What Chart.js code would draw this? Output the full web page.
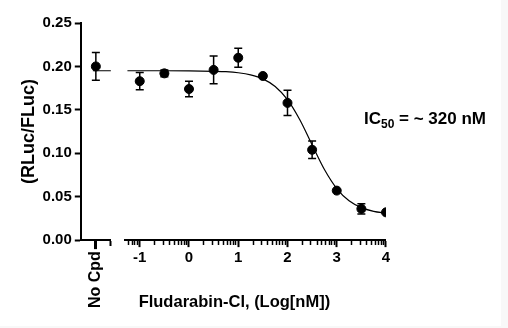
<!DOCTYPE html>
<html>
<head>
<meta charset="utf-8">
<script src="https://cdn.jsdelivr.net/npm/chart.js@4.4.1/dist/chart.umd.min.js"></script>
<style>
  html, body { margin: 0; padding: 0; background: #f8f8f8; }
  #doseChart { display: block; background: #ffffff; }
</style>
</head>
<body>
<canvas id="doseChart" width="501" height="326"></canvas>
<script>
// Dose-response: Fludarabin-Cl, RLuc/FLuc ratio vs log concentration (nM)
const doseLog = [-1, -0.5, 0, 0.5, 1, 1.5, 2, 2.5, 3, 3.5, 4];
const ratioMean = [0.183, 0.192, 0.174, 0.196, 0.210, 0.189, 0.158, 0.104, 0.057, 0.036, 0.032];
const ratioErr = [0.010, 0.004, 0.009, 0.016, 0.011, 0, 0.0145, 0.010, 0, 0.006, 0];

// Control without compound
const noCpdMean = [0.200];
const noCpdErr = [0.016];

// Fitted curve
const fitLog = [-1.25, -0.5, 0, 0.5, 0.75, 1, 1.25, 1.5, 1.75, 2, 2.25, 2.5, 2.75, 3, 3.25, 3.5, 3.75, 4];
const fitRatio = [0.195, 0.195, 0.1949, 0.1944, 0.1939, 0.1927, 0.1903, 0.1857, 0.1769, 0.1617, 0.1385, 0.1096, 0.0813, 0.0594, 0.0453, 0.0374, 0.0332, 0.0311];
const noCpdFit = [0.195, 0.195];

// Axis ticks
const majorTicks = [-1, 0, 1, 2, 3, 4];
const yTicks = [0, 0.05, 0.10, 0.15, 0.20, 0.25];
const xTitle = 'Fludarabin-Cl, (Log[nM])';
const icLabel = ['IC', '50', ' = ~ 320 nM'];

const FONT = 'Arial, "Liberation Sans", Helvetica, sans-serif';
const logMin = -1.3, logMax = 4;

// log-axis ticks: decades plus the minor 2..9 marks
function buildLogTicks() {
    const out = [];
    for (let d = -2; d <= 4; d++) {
        for (let k = 1; k <= 9; k++) {
            const v = d + Math.log10(k);
            if (v >= logMin - 1e-6 && v <= logMax + 1e-6) out.push({ value: v });
        }
    }
    return out;
}
const isMajor = v => majorTicks.some(m => Math.abs(m - v) < 1e-6);

// error bars drawn under the dots
const errorBars = {
    id: 'errorBars',
    beforeDatasetsDraw(chart) {
        const ctx = chart.ctx;
        const yScale = chart.scales.y;
        chart.data.datasets.forEach(ds => {
            if (!ds.err) return;
            const xScale = chart.scales[ds.xAxisID];
            ds.data.forEach((p, i) => {
                const e = ds.err[i];
                if (!e) return;
                const x = xScale.getPixelForValue(p.x);
                const yTop = yScale.getPixelForValue(p.y + e);
                const yBot = yScale.getPixelForValue(p.y - e);
                ctx.save();
                ctx.strokeStyle = '#000';
                ctx.lineWidth = 1.5;
                ctx.beginPath();
                ctx.moveTo(x, yTop); ctx.lineTo(x, yBot);
                ctx.moveTo(x - 4, yTop); ctx.lineTo(x + 4, yTop);
                ctx.moveTo(x - 4, yBot); ctx.lineTo(x + 4, yBot);
                ctx.stroke();
                ctx.restore();
            });
        });
    }
};

// x title across the whole broken axis, plus the IC50 note
const labels = {
    id: 'labels',
    afterDraw(chart) {
        const ctx = chart.ctx;
        const area = chart.chartArea;
        const xs = chart.scales.x;
        ctx.save();
        ctx.fillStyle = '#000';
        ctx.textBaseline = 'alphabetic';
        ctx.font = 'bold 16.5px ' + FONT;
        ctx.textAlign = 'center';
        ctx.fillText(xTitle, (area.left + area.right) / 2 + 1, xs.bottom - 3);

        // IC50 = ~ 320 nM with subscript
        let x = area.right - 22;
        const y = chart.scales.y.getPixelForValue(0.134);
        ctx.textAlign = 'left';
        ctx.font = 'bold 17px ' + FONT;
        ctx.fillText(icLabel[0], x, y);
        x += ctx.measureText(icLabel[0]).width;
        ctx.font = 'bold 12px ' + FONT;
        ctx.fillText(icLabel[1], x, y + 4);
        x += ctx.measureText(icLabel[1]).width;
        ctx.font = 'bold 17px ' + FONT;
        ctx.fillText(icLabel[2], x, y);
        ctx.restore();
    }
};

const tickFont = { family: FONT, size: 15, weight: 'bold' };

new Chart(document.getElementById('doseChart'), {
    type: 'scatter',
    data: {
        datasets: [
            {
                type: 'line',
                data: fitLog.map((v, i) => ({ x: v, y: fitRatio[i] })),
                xAxisID: 'x',
                borderColor: '#000',
                borderWidth: 1.2,
                pointRadius: 0,
                cubicInterpolationMode: 'monotone',
                fill: false
            },
            {
                type: 'line',
                data: [{ x: -0.2, y: noCpdFit[0] }, { x: 1, y: noCpdFit[1] }],
                xAxisID: 'xNo',
                borderColor: '#000',
                borderWidth: 1.2,
                pointRadius: 0,
                fill: false
            },
            {
                data: doseLog.map((v, i) => ({ x: v, y: ratioMean[i] })),
                err: ratioErr,
                xAxisID: 'x',
                backgroundColor: '#000',
                borderColor: '#000',
                pointRadius: 4.5,
                pointHoverRadius: 4.5
            },
            {
                data: [{ x: 0, y: noCpdMean[0] }],
                err: noCpdErr,
                xAxisID: 'xNo',
                backgroundColor: '#000',
                borderColor: '#000',
                pointRadius: 4.5,
                pointHoverRadius: 4.5
            }
        ]
    },
    options: {
        responsive: false,
        animation: false,
        events: [],
        layout: { padding: { top: 23, right: 115, bottom: 16, left: 18 } },
        plugins: {
            legend: { display: false },
            tooltip: { enabled: false }
        },
        scales: {
            // "No Cpd" segment of the broken axis
            xNo: {
                type: 'linear',
                position: 'bottom',
                stack: 'xaxis',
                stackWeight: 30,
                min: -1,
                max: 1,
                afterBuildTicks: s => { s.ticks = [{ value: 0 }, { value: 1 }]; },
                ticks: {
                    autoSkip: false,
                    minRotation: 90,
                    maxRotation: 90,
                    padding: 2,
                    color: '#000',
                    font: { family: FONT, size: 16, weight: 'bold' },
                    callback: v => (v === 0 ? 'No Cpd' : '')
                },
                grid: {
                    drawOnChartArea: false,
                    tickLength: 9,
                    tickColor: '#000',
                    tickWidth: c => (c.tick && c.tick.value === 0 ? 3 : 2),
                    tickBorderDash: c => (c.tick && c.tick.value === 0 ? [] : [5, 20])
                },
                border: { color: '#000', width: 2 }
            },
            // break between the two segments
            xGap: {
                type: 'linear',
                position: 'bottom',
                stack: 'xaxis',
                stackWeight: 14,
                min: 0,
                max: 1,
                ticks: { display: false },
                grid: { display: false },
                border: { display: false }
            },
            // log concentration segment
            x: {
                type: 'linear',
                position: 'bottom',
                stack: 'xaxis',
                stackWeight: 260,
                min: logMin,
                max: logMax,
                afterBuildTicks: s => { s.ticks = buildLogTicks(); },
                ticks: {
                    autoSkip: false,
                    maxRotation: 0,
                    padding: 2,
                    color: '#000',
                    font: tickFont,
                    callback: v => (isMajor(v) ? String(Math.round(v)) : '')
                },
                grid: {
                    drawOnChartArea: false,
                    tickLength: 7,
                    tickColor: '#000',
                    tickWidth: c => (c.tick && isMajor(c.tick.value) ? 2 : 1.5),
                    tickBorderDash: c => (c.tick && isMajor(c.tick.value) ? [] : [4, 20])
                },
                border: { color: '#000', width: 2 }
            },
            y: {
                type: 'linear',
                position: 'left',
                min: 0,
                max: 0.25,
                afterBuildTicks: s => { s.ticks = yTicks.map(v => ({ value: v })); },
                ticks: {
                    padding: 3,
                    color: '#000',
                    font: tickFont,
                    callback: v => v.toFixed(2)
                },
                grid: {
                    drawOnChartArea: false,
                    tickLength: 6,
                    tickColor: '#000',
                    tickWidth: 2
                },
                border: { color: '#000', width: 2 },
                title: {
                    display: true,
                    text: '(RLuc/FLuc)',
                    color: '#000',
                    font: { family: FONT, size: 18, weight: 'bold' },
                    padding: { top: 0, bottom: 0 }
                }
            }
        }
    },
    plugins: [errorBars, labels]
});
</script>
</body>
</html>
